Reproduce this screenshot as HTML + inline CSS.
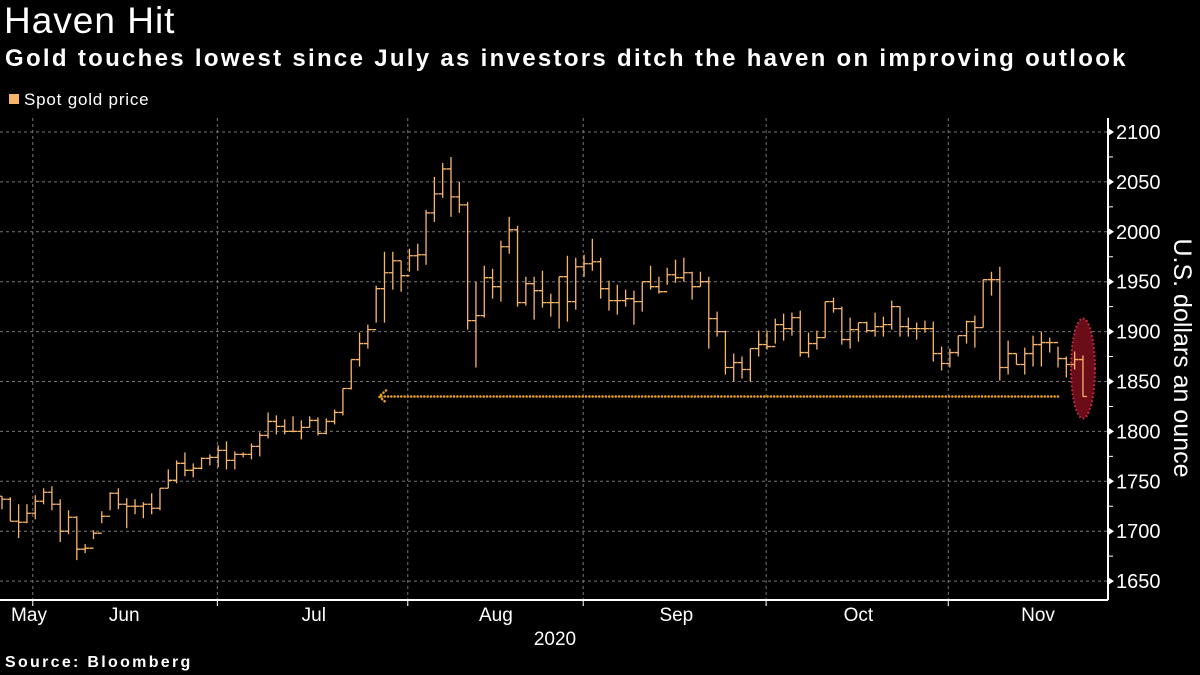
<!DOCTYPE html>
<html><head><meta charset="utf-8"><style>
body{margin:0;background:#000;width:1200px;height:675px;overflow:hidden;font-family:"Liberation Sans",sans-serif;color:#fff}
.t{position:absolute;white-space:nowrap}
</style></head><body>
<div class="t" style="left:4px;top:0px;font-size:37px;letter-spacing:1px;">Haven Hit</div>
<div class="t" style="left:5px;top:45px;font-size:24px;font-weight:bold;letter-spacing:2.3px;">Gold touches lowest since July as investors ditch the haven on improving outlook</div>
<div class="t" style="left:9px;top:90px;font-size:17px;letter-spacing:0.8px;"><span style="display:inline-block;width:10px;height:10px;background:#f7b56a;margin-right:5px;vertical-align:1px"></span>Spot gold price</div>
<div class="t" style="left:5px;top:654px;font-size:16px;font-weight:bold;letter-spacing:2.3px;">Source: Bloomberg</div>
<svg id="c" width="1200" height="675" style="position:absolute;left:0;top:0"></svg>
<script>
const highs=[1735,1734,1727,1727,1736,1743,1745,1732,1721,1715,1687,1701,1720,1739,1743,1733,1732,1729,1738,1743,1762,1771,1779,1768,1774,1777,1786,1790,1780,1779,1788,1799,1819,1816,1812,1815,1811,1815,1814,1813,1822,1843,1872,1899,1907,1946,1980,1980,1971,1983,1988,2022,2055,2069,2075,2050,2030,1950,1966,1963,1991,2015,2006,1955,1955,1961,1938,1955,1976,1974,1977,1993,1974,1951,1947,1942,1941,1950,1966,1955,1964,1972,1974,1960,1960,1955,1920,1901,1878,1875,1883,1901,1901,1913,1918,1919,1921,1899,1901,1930,1934,1925,1914,1909,1910,1919,1915,1931,1925,1914,1909,1911,1910,1885,1883,1896,1911,1916,1952,1960,1965,1891,1878,1884,1896,1900,1894,1885,1875,1880,1876];
const lows=[1722,1710,1693,1708,1712,1727,1721,1689,1697,1671,1678,1692,1708,1721,1722,1703,1717,1713,1717,1721,1743,1748,1755,1754,1762,1766,1764,1762,1762,1774,1772,1775,1793,1797,1797,1799,1792,1804,1796,1797,1807,1816,1842,1865,1883,1909,1909,1942,1940,1960,1961,1967,2010,2034,2015,2019,1902,1864,1914,1933,1930,1978,1925,1926,1912,1924,1915,1903,1910,1922,1955,1961,1933,1921,1917,1925,1907,1920,1942,1938,1947,1949,1950,1932,1945,1883,1895,1857,1850,1853,1850,1875,1882,1888,1891,1896,1875,1874,1882,1894,1919,1887,1883,1890,1899,1895,1895,1902,1895,1895,1892,1899,1870,1861,1864,1875,1888,1884,1904,1936,1851,1857,1867,1857,1865,1865,1879,1864,1854,1862,1835];
const closes=[1732,1710,1709,1718,1730,1739,1727,1700,1714,1682,1683,1698,1715,1738,1727,1725,1725,1727,1723,1743,1751,1768,1761,1763,1773,1774,1781,1771,1777,1777,1785,1796,1810,1805,1800,1800,1804,1811,1798,1810,1819,1843,1872,1888,1902,1943,1959,1971,1956,1976,1977,2019,2038,2063,2035,2027,1911,1916,1954,1945,1985,2002,1929,1948,1941,1929,1929,1955,1930,1965,1968,1970,1943,1931,1931,1933,1930,1950,1945,1940,1957,1954,1959,1945,1950,1913,1900,1864,1869,1862,1883,1887,1885,1907,1903,1914,1879,1888,1894,1930,1923,1892,1902,1909,1901,1905,1907,1925,1905,1903,1903,1903,1878,1868,1879,1896,1910,1904,1952,1952,1864,1878,1867,1878,1887,1889,1889,1873,1867,1872,1835];
const opens=[1735].concat(closes.slice(0,-1));
const yTicks=[1650,1700,1750,1800,1850,1900,1950,2000,2050,2100];
const monthLabels=["May","Jun","Jul","Aug","Sep","Oct","Nov"];
const monthCenters=[3.1,14.7,37.5,59.4,81.1,103,124.6];
const monthBounds=[3.7,25.9,48.8,69.9,91.9,113.8];
const lastValue=1835;

const svg=document.getElementById('c');
const NS='http://www.w3.org/2000/svg';
const X=i=>2+i*8.315;
const Y=v=>132+(2100-v)*0.998;
function mk(t,a){const e=document.createElementNS(NS,t);for(const k in a)e.setAttribute(k,a[k]);svg.appendChild(e);return e;}
yTicks.forEach((v,i)=>{
  const g=mk('line',{x1:0,x2:1108,y1:Y(v),y2:Y(v),stroke:'#777','stroke-width':1,'stroke-dasharray':'3,3'});
  
  
  const tk=mk('path',{d:`M1108 ${Y(v)-4}L1114 ${Y(v)}L1108 ${Y(v)+4}Z`,fill:'#fff'});
  
  
  if(i<yTicks.length-1){
    const mt=mk('line',{x1:1108,x2:1113,y1:Y(v+25),y2:Y(v+25),stroke:'#fff'});
    
    
  }
  const t=mk('text',{x:1116,y:Y(v)+7,fill:'#fff','font-size':20,'font-family':'Liberation Sans, sans-serif'});
  t.textContent=v;
  
  
});
monthBounds.forEach(b=>{
  const g=mk('line',{x1:X(b),x2:X(b),y1:118,y2:606,stroke:'#777','stroke-dasharray':'3,3'});
  
  
  const tk=mk('line',{x1:X(b),x2:X(b),y1:600,y2:606,stroke:'#fff'});
  
  
});
monthLabels.forEach((m,i)=>{
  const x=Math.max(29,X(monthCenters[i]));
  const t=mk('text',{x:x,y:621,fill:'#fff','font-size':19,'text-anchor':'middle','font-family':'Liberation Sans, sans-serif'});
  t.textContent=m;
  
  
});
const yr=mk('text',{x:555,y:645,fill:'#fff','font-size':19,'text-anchor':'middle','font-family':'Liberation Sans, sans-serif'});
yr.textContent='2020';


const ax=mk('line',{x1:0,x2:1108,y1:600,y2:600,stroke:'#fff','stroke-width':2});


const ay=mk('line',{x1:1108,x2:1108,y1:118,y2:600,stroke:'#fff','stroke-width':2});


const yt=mk('text',{x:0,y:0,fill:'#fff','font-size':25,'text-anchor':'middle','transform':'translate(1174,358) rotate(90)','font-family':'Liberation Sans, sans-serif'});
yt.textContent='U.S. dollars an ounce';


const el=mk('ellipse',{cx:X(closes.length-1),cy:Y(lastValue)-28,rx:12,ry:50,fill:'#6b0d18',stroke:'#d0304a','stroke-width':2,'stroke-dasharray':'1.5,2.5'});


for(let i=0;i<closes.length;i++){
  const x=X(i);
  const g=document.createElementNS(NS,'path');
  g.setAttribute('d',`M${x} ${Y(highs[i])}V${Y(lows[i])}M${x-4} ${Y(opens[i])}H${x}M${x} ${Y(closes[i])}H${x+4}`);
  g.setAttribute('stroke','#f7b56a');
  g.setAttribute('stroke-width','1.3');
  g.setAttribute('fill','none');
  
  
  svg.appendChild(g);
}
const ay2=Y(lastValue);
const ar=mk('path',{d:`M1058 ${ay2}H380M386 ${ay2-6}L379 ${ay2}L386 ${ay2+6}`,stroke:'#e8a020','stroke-width':2.5,fill:'none','stroke-dasharray':'0.1,3.2','stroke-linecap':'round'});


</script>
</body></html>
